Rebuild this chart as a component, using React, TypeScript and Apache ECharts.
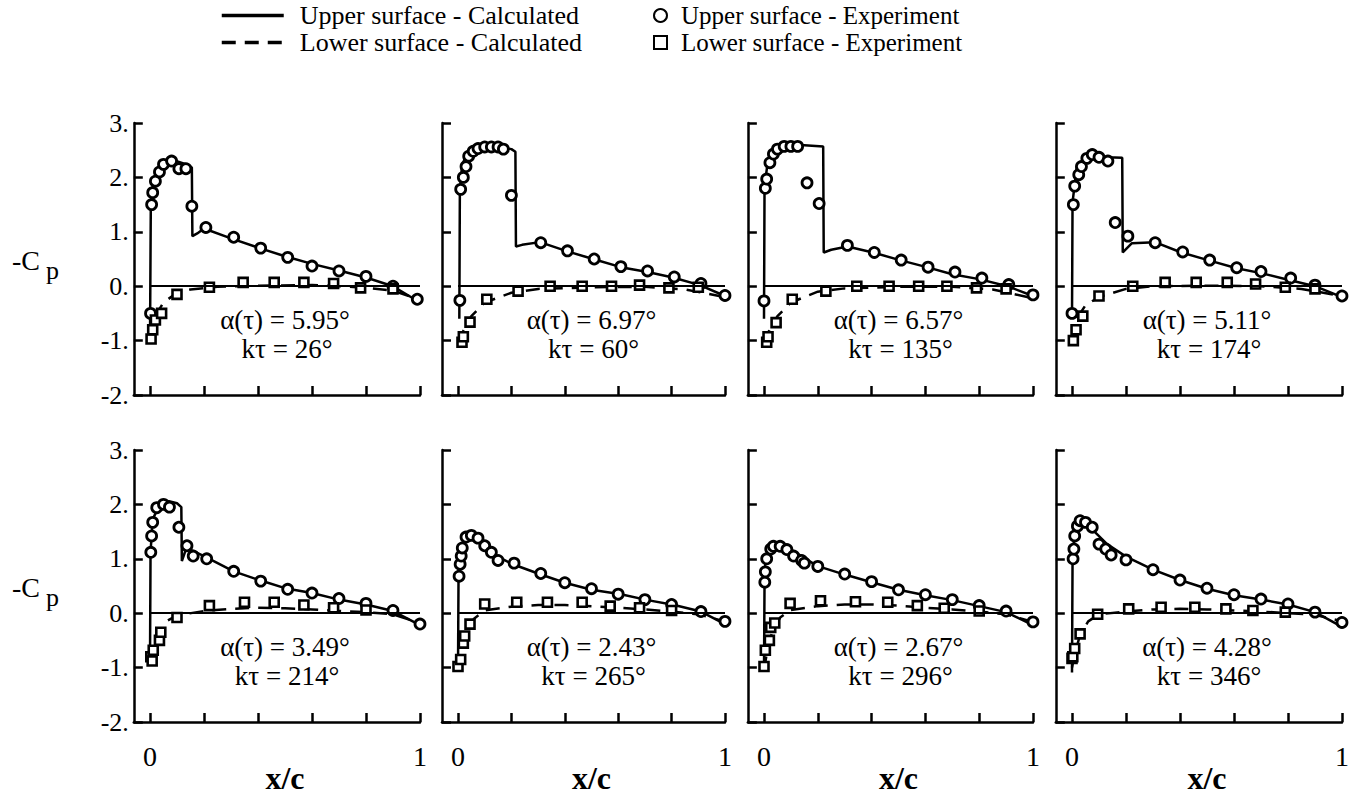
import React, { useEffect, useRef } from 'react';
import * as echarts from 'echarts';

type P = [number, number][];

// ---- Panel kτ = 26° ----
const upperCalc26: P = [[0, -0.98], [0.003, 1.5], [0.01, 1.85], [0.02, 2.05], [0.035, 2.2], [0.06, 2.3], [0.085, 2.32], [0.11, 2.28], [0.135, 2.24], [0.155, 2.18], [0.157, 0.92], [0.175, 0.97], [0.2, 1.06], [0.3, 0.88], [0.4, 0.71], [0.5, 0.55], [0.6, 0.41], [0.7, 0.29], [0.8, 0.16], [0.9, 0.0], [1.0, -0.3]];
const lowerCalc26: P = [[0, -0.98], [0.01, -0.75], [0.025, -0.5], [0.05, -0.3], [0.1, -0.12], [0.15, -0.06], [0.25, -0.01], [0.4, 0.01], [0.6, 0.02], [0.7, 0.0], [0.8, -0.03], [0.9, -0.08], [1.0, -0.25]];
const upperExp26: P = [[0.002, -0.5], [0.006, 1.5], [0.01, 1.72], [0.02, 1.93], [0.035, 2.1], [0.05, 2.24], [0.08, 2.3], [0.107, 2.16], [0.133, 2.16], [0.155, 1.47], [0.207, 1.08], [0.31, 0.9], [0.41, 0.7], [0.51, 0.53], [0.6, 0.37], [0.7, 0.28], [0.8, 0.18], [0.9, 0.0], [0.99, -0.24]];
const lowerExp26: P = [[0.004, -0.97], [0.01, -0.8], [0.02, -0.62], [0.043, -0.5], [0.1, -0.15], [0.22, -0.02], [0.345, 0.07], [0.46, 0.07], [0.57, 0.07], [0.68, 0.05], [0.78, -0.03], [0.9, -0.05]];

// ---- Panel kτ = 60° ----
const upperCalc60: P = [[0.005, -0.6], [0.007, 1.78], [0.015, 2.2], [0.03, 2.42], [0.05, 2.52], [0.08, 2.58], [0.12, 2.58], [0.16, 2.56], [0.2, 2.52], [0.215, 2.47], [0.217, 0.73], [0.24, 0.76], [0.307, 0.81], [0.41, 0.64], [0.506, 0.5], [0.61, 0.35], [0.71, 0.26], [0.805, 0.16], [0.906, 0.02], [1.0, -0.18]];
const lowerCalc60: P = [[0.005, -1.05], [0.02, -0.82], [0.05, -0.55], [0.1, -0.3], [0.2, -0.12], [0.3, -0.05], [0.5, -0.02], [0.7, -0.01], [0.85, -0.06], [1.0, -0.2]];
const upperExp60: P = [[0.007, -0.26], [0.01, 1.78], [0.02, 2.0], [0.03, 2.2], [0.04, 2.39], [0.057, 2.48], [0.075, 2.53], [0.1, 2.56], [0.125, 2.56], [0.15, 2.56], [0.17, 2.52], [0.2, 1.67], [0.31, 0.8], [0.41, 0.65], [0.51, 0.5], [0.61, 0.36], [0.71, 0.28], [0.81, 0.17], [0.91, 0.05], [1.0, -0.17]];
const lowerExp60: P = [[0.015, -1.03], [0.02, -0.93], [0.045, -0.66], [0.108, -0.24], [0.225, -0.09], [0.345, 0.0], [0.465, 0.0], [0.575, 0.0], [0.68, 0.02], [0.79, -0.03], [0.9, -0.02]];

// ---- Panel kτ = 135° ----
const upperCalc135: P = [[0, -0.6], [0.002, 1.83], [0.015, 2.33], [0.035, 2.51], [0.085, 2.6], [0.15, 2.59], [0.22, 2.57], [0.222, 0.62], [0.25, 0.67], [0.31, 0.73], [0.405, 0.62], [0.505, 0.48], [0.605, 0.35], [0.7, 0.22], [0.8, 0.13], [0.905, 0.0], [1.0, -0.18]];
const lowerCalc135: P = [[0.003, -1.05], [0.02, -0.8], [0.05, -0.55], [0.1, -0.3], [0.2, -0.1], [0.3, -0.04], [0.5, -0.01], [0.7, -0.01], [0.85, -0.06], [1.0, -0.22]];
const upperExp135: P = [[0.0, -0.27], [0.005, 1.8], [0.01, 1.97], [0.022, 2.27], [0.035, 2.43], [0.05, 2.52], [0.075, 2.57], [0.1, 2.57], [0.125, 2.57], [0.16, 1.9], [0.205, 1.52], [0.31, 0.75], [0.41, 0.62], [0.51, 0.48], [0.61, 0.35], [0.71, 0.26], [0.81, 0.15], [0.91, 0.03], [1.0, -0.16]];
const lowerExp135: P = [[0.01, -1.03], [0.015, -0.93], [0.045, -0.67], [0.105, -0.24], [0.23, -0.09], [0.345, 0.0], [0.465, 0.0], [0.575, 0.0], [0.68, 0.0], [0.79, -0.03], [0.9, -0.05]];

// ---- Panel kτ = 174° ----
const upperCalc174: P = [[0, -0.6], [0.002, 1.54], [0.018, 2.2], [0.055, 2.39], [0.085, 2.42], [0.13, 2.37], [0.186, 2.36], [0.188, 0.62], [0.222, 0.79], [0.307, 0.81], [0.405, 0.62], [0.51, 0.47], [0.61, 0.33], [0.7, 0.24], [0.8, 0.12], [0.9, 0.0], [1.0, -0.2]];
const lowerCalc174: P = [[0, -1.0], [0.02, -0.58], [0.05, -0.35], [0.1, -0.2], [0.2, -0.05], [0.3, 0.0], [0.5, 0.01], [0.7, 0.0], [0.85, -0.05], [1.0, -0.18]];
const upperExp174: P = [[0.0, -0.5], [0.005, 1.5], [0.01, 1.84], [0.025, 2.05], [0.035, 2.2], [0.055, 2.35], [0.075, 2.42], [0.1, 2.37], [0.133, 2.3], [0.16, 1.17], [0.207, 0.92], [0.308, 0.8], [0.41, 0.63], [0.51, 0.48], [0.61, 0.34], [0.7, 0.27], [0.81, 0.15], [0.9, 0.02], [1.0, -0.18]];
const lowerExp174: P = [[0.005, -1.0], [0.015, -0.8], [0.04, -0.55], [0.1, -0.18], [0.225, 0.0], [0.345, 0.07], [0.46, 0.07], [0.575, 0.07], [0.68, 0.04], [0.79, -0.02], [0.9, -0.05]];

// ---- Panel kτ = 214° ----
const upperCalc214: P = [[0, -0.9], [0.002, 1.12], [0.01, 1.73], [0.037, 2.0], [0.07, 2.06], [0.1, 2.02], [0.116, 1.95], [0.118, 0.96], [0.135, 1.2], [0.2, 1.05], [0.31, 0.77], [0.41, 0.6], [0.5, 0.46], [0.6, 0.37], [0.7, 0.25], [0.8, 0.16], [0.9, 0.04], [1.0, -0.22]];
const lowerCalc214: P = [[0, -0.9], [0.01, -0.75], [0.03, -0.45], [0.06, -0.15], [0.1, -0.04], [0.2, 0.04], [0.3, 0.08], [0.4, 0.1], [0.5, 0.09], [0.6, 0.07], [0.7, 0.04], [0.8, 0.02], [0.9, -0.02], [1.0, -0.18]];
const upperExp214: P = [[0.003, 1.12], [0.006, 1.42], [0.01, 1.67], [0.025, 1.94], [0.05, 2.0], [0.072, 1.95], [0.107, 1.58], [0.137, 1.24], [0.16, 1.05], [0.21, 1.0], [0.31, 0.77], [0.41, 0.59], [0.51, 0.44], [0.6, 0.37], [0.7, 0.27], [0.8, 0.18], [0.9, 0.05], [1.0, -0.2]];
const lowerExp214: P = [[0.003, -0.8], [0.008, -0.88], [0.012, -0.68], [0.035, -0.5], [0.04, -0.35], [0.1, -0.08], [0.22, 0.14], [0.35, 0.2], [0.46, 0.2], [0.57, 0.15], [0.68, 0.1], [0.8, 0.06]];

// ---- Panel kτ = 265° ----
const upperCalc265: P = [[0, -1.06], [0.002, 0.68], [0.01, 1.18], [0.025, 1.4], [0.045, 1.43], [0.085, 1.35], [0.145, 1.05], [0.205, 0.9], [0.305, 0.72], [0.4, 0.56], [0.5, 0.43], [0.61, 0.35], [0.71, 0.24], [0.81, 0.15], [0.91, 0.03], [1.0, -0.2]];
const lowerCalc265: P = [[0, -1.05], [0.01, -0.8], [0.03, -0.4], [0.06, -0.1], [0.1, 0.05], [0.2, 0.12], [0.3, 0.15], [0.4, 0.15], [0.5, 0.13], [0.6, 0.1], [0.7, 0.07], [0.8, 0.03], [0.9, -0.02], [1.0, -0.15]];
const upperExp265: P = [[0.004, 0.68], [0.008, 0.9], [0.012, 1.05], [0.016, 1.2], [0.03, 1.4], [0.05, 1.43], [0.075, 1.38], [0.1, 1.24], [0.125, 1.12], [0.15, 0.97], [0.21, 0.92], [0.31, 0.73], [0.4, 0.56], [0.5, 0.45], [0.6, 0.35], [0.7, 0.25], [0.8, 0.16], [0.91, 0.03], [1.0, -0.15]];
const lowerExp265: P = [[0.0, -0.98], [0.01, -0.85], [0.02, -0.55], [0.025, -0.42], [0.045, -0.2], [0.1, 0.17], [0.22, 0.2], [0.335, 0.2], [0.465, 0.2], [0.57, 0.13], [0.68, 0.1], [0.8, 0.05]];

// ---- Panel kτ = 296° ----
const upperCalc296: P = [[0, -1.07], [0.002, 0.57], [0.005, 1.0], [0.022, 1.23], [0.045, 1.25], [0.097, 1.18], [0.197, 0.87], [0.3, 0.71], [0.4, 0.57], [0.5, 0.43], [0.6, 0.33], [0.7, 0.24], [0.8, 0.13], [0.9, 0.02], [1.0, -0.22]];
const lowerCalc296: P = [[0, -1.05], [0.01, -0.75], [0.03, -0.35], [0.06, -0.08], [0.1, 0.06], [0.2, 0.13], [0.3, 0.16], [0.4, 0.16], [0.5, 0.14], [0.6, 0.1], [0.7, 0.07], [0.8, 0.03], [0.9, -0.02], [1.0, -0.16]];
const upperExp296: P = [[0.003, 0.57], [0.005, 0.76], [0.01, 1.0], [0.025, 1.18], [0.035, 1.23], [0.06, 1.23], [0.085, 1.17], [0.11, 1.05], [0.14, 0.97], [0.15, 0.92], [0.2, 0.86], [0.3, 0.72], [0.4, 0.58], [0.5, 0.43], [0.6, 0.34], [0.7, 0.25], [0.8, 0.14], [0.9, 0.04], [1.0, -0.16]];
const lowerExp296: P = [[0.0, -0.98], [0.005, -0.68], [0.02, -0.5], [0.025, -0.26], [0.04, -0.18], [0.097, 0.18], [0.21, 0.23], [0.34, 0.21], [0.46, 0.2], [0.57, 0.14], [0.67, 0.09], [0.8, 0.04]];

// ---- Panel kτ = 346° ----
const upperCalc346: P = [[0, -1.09], [0.002, 0.93], [0.007, 1.3], [0.02, 1.6], [0.037, 1.73], [0.055, 1.7], [0.085, 1.49], [0.13, 1.27], [0.2, 1.04], [0.3, 0.8], [0.4, 0.61], [0.5, 0.45], [0.6, 0.33], [0.7, 0.25], [0.8, 0.16], [0.9, 0.02], [1.0, -0.25]];
const lowerCalc346: P = [[0, -1.0], [0.01, -0.75], [0.03, -0.4], [0.06, -0.15], [0.1, -0.02], [0.2, 0.03], [0.3, 0.07], [0.4, 0.08], [0.5, 0.07], [0.6, 0.05], [0.7, 0.03], [0.8, 0.0], [0.9, -0.03], [1.0, -0.15]];
const upperExp346: P = [[0.004, 1.0], [0.007, 1.18], [0.01, 1.42], [0.02, 1.6], [0.03, 1.7], [0.05, 1.67], [0.075, 1.58], [0.1, 1.27], [0.125, 1.18], [0.145, 1.07], [0.2, 0.98], [0.3, 0.8], [0.4, 0.61], [0.5, 0.46], [0.6, 0.34], [0.7, 0.26], [0.8, 0.17], [0.9, 0.02], [1.0, -0.17]];
const lowerExp346: P = [[0.0, -0.83], [0.003, -0.8], [0.01, -0.65], [0.03, -0.38], [0.095, -0.02], [0.21, 0.08], [0.33, 0.11], [0.455, 0.11], [0.57, 0.08], [0.67, 0.05], [0.79, 0.02]];

const alphaValues = ['5.95', '6.97', '6.57', '5.11', '3.49', '2.43', '2.67', '4.28'];
const ktValues = ['26', '60', '135', '174', '214', '265', '296', '346'];

const xTickValues = [0, 0.2, 0.4, 0.6, 0.8, 1];
const xLabelValues = [0, 1];

const NAME_UC = 'Upper surface - Calculated';
const NAME_LC = 'Lower surface - Calculated';
const NAME_UE = 'Upper surface - Experiment';
const NAME_LE = 'Lower surface - Experiment';

const panels = [
  { uc: upperCalc26, lc: lowerCalc26, ue: upperExp26, le: lowerExp26 },
  { uc: upperCalc60, lc: lowerCalc60, ue: upperExp60, le: lowerExp60 },
  { uc: upperCalc135, lc: lowerCalc135, ue: upperExp135, le: lowerExp135 },
  { uc: upperCalc174, lc: lowerCalc174, ue: upperExp174, le: lowerExp174 },
  { uc: upperCalc214, lc: lowerCalc214, ue: upperExp214, le: lowerExp214 },
  { uc: upperCalc265, lc: lowerCalc265, ue: upperExp265, le: lowerExp265 },
  { uc: upperCalc296, lc: lowerCalc296, ue: upperExp296, le: lowerExp296 },
  { uc: upperCalc346, lc: lowerCalc346, ue: upperExp346, le: lowerExp346 },
];

// layout (pixels)
const COL_X0 = [150, 458, 764, 1072];
const COL_X1 = [420, 725, 1033, 1342];
const ROW_TOP = [123, 450];
const ROW_H = 272;
const X_MIN = -0.06;
const Y_MIN = -2;
const Y_MAX = 3;

const FONT = 'Liberation Serif';

function txt(text: string, x: number, y: number, size: number, align = 'center', weight = 'normal') {
  return {
    type: 'text',
    x,
    y,
    style: {
      text,
      fontSize: size,
      fontFamily: FONT,
      fontWeight: weight,
      fill: '#000',
      textAlign: align,
      textVerticalAlign: 'middle',
      align,
      verticalAlign: 'middle',
    },
  };
}

function buildOption() {
  const grid: any[] = [];
  const xAxis: any[] = [];
  const yAxis: any[] = [];
  const series: any[] = [];
  const graphic: any[] = [];

  panels.forEach((p, i) => {
    const c = i % 4;
    const r = Math.floor(i / 4);
    const x0 = COL_X0[c];
    const w = COL_X1[c] - x0;
    const top = ROW_TOP[r];
    grid.push({ left: x0 + X_MIN * w, width: (1 - X_MIN) * w, top, height: ROW_H });
    xAxis.push({
      type: 'value',
      gridIndex: i,
      min: X_MIN,
      max: 1,
      axisLine: { show: true, onZero: false, lineStyle: { color: '#000', width: 2.5 } },
      axisTick: { show: true, inside: true, length: 9, customValues: xTickValues, lineStyle: { color: '#000', width: 2.5 } },
      axisLabel: {
        show: r === 1,
        customValues: xLabelValues,
        fontSize: 28,
        fontFamily: FONT,
        color: '#000',
        margin: 20,
      },
      splitLine: { show: false },
    });
    yAxis.push({
      type: 'value',
      gridIndex: i,
      min: Y_MIN,
      max: Y_MAX,
      interval: 1,
      axisLine: { show: true, onZero: false, lineStyle: { color: '#000', width: 2.5 } },
      axisTick: { show: true, inside: true, length: 9, lineStyle: { color: '#000', width: 2.5 } },
      axisLabel: {
        show: c === 0,
        formatter: (v: number) => `${v}.`,
        fontSize: 26,
        fontFamily: FONT,
        color: '#000',
        margin: 5,
      },
      splitLine: { show: false },
    });

    series.push({
      name: NAME_UC,
      type: 'line',
      xAxisIndex: i,
      yAxisIndex: i,
      data: p.uc,
      symbol: 'none',
      z: 2,
      lineStyle: { color: '#000', width: 2.5 },
      itemStyle: { color: '#000' },
      markLine: {
        silent: true,
        symbol: 'none',
        label: { show: false },
        lineStyle: { color: '#000', width: 2.2, type: 'solid' },
        data: [[{ coord: [0, 0] }, { coord: [1, 0] }]],
      },
    });
    series.push({
      name: NAME_LC,
      type: 'line',
      xAxisIndex: i,
      yAxisIndex: i,
      data: p.lc,
      symbol: 'none',
      z: 2,
      lineStyle: { color: '#000', width: 2.5, type: [14, 9] },
      itemStyle: { color: '#000' },
    });
    series.push({
      name: NAME_UE,
      type: 'scatter',
      xAxisIndex: i,
      yAxisIndex: i,
      data: p.ue,
      symbol: 'circle',
      symbolSize: 10,
      z: 4,
      itemStyle: { color: '#fff', borderColor: '#000', borderWidth: 2.8, opacity: 1 },
    });
    series.push({
      name: NAME_LE,
      type: 'scatter',
      xAxisIndex: i,
      yAxisIndex: i,
      data: p.le,
      symbol: 'rect',
      symbolSize: 9,
      z: 4,
      itemStyle: { color: '#fff', borderColor: '#000', borderWidth: 2.6, opacity: 1 },
    });

    const toPx = (v: number) => top + ((Y_MAX - v) / (Y_MAX - Y_MIN)) * ROW_H;
    const cx = x0 + 0.5 * w;
    graphic.push(txt(`α(τ) = ${alphaValues[i]}°`, cx, toPx(-0.62), 27));
    graphic.push(txt(`kτ = ${ktValues[i]}°`, cx + 2, toPx(-1.16), 27));
    if (r === 1) {
      graphic.push(txt('x/c', cx, 778, 32, 'center', 'bold'));
    }
  });

  [0, 1].forEach((r) => {
    const cy = 260 + (ROW_TOP[r] - ROW_TOP[0]);
    graphic.push(txt('-C', 12, cy, 28, 'left'));
    graphic.push(txt('p', 46, cy + 10, 26, 'left'));
  });

  return {
    animation: false,
    backgroundColor: '#fff',
    legend: [
      {
        orient: 'vertical',
        left: 220,
        top: 2,
        padding: 0,
        itemWidth: 62,
        itemHeight: 14,
        itemGap: 0,
        data: [NAME_UC, NAME_LC],
        itemStyle: { opacity: 0, color: 'rgba(0,0,0,0)', borderWidth: 0 },
        lineStyle: { width: 3.5 },
        textStyle: { fontSize: 26, fontFamily: FONT, color: '#000', lineHeight: 27, padding: [0, 0, 0, 11] },
      },
      {
        orient: 'vertical',
        left: 653,
        top: 2,
        padding: 0,
        itemWidth: 13,
        itemHeight: 13,
        itemGap: 0,
        data: [NAME_UE, NAME_LE],
        textStyle: { fontSize: 25, fontFamily: FONT, color: '#000', lineHeight: 27, padding: [0, 0, 0, 9] },
      },
    ],
    grid,
    xAxis,
    yAxis,
    series,
    graphic,
  };
}

export default function App() {
  const ref = useRef<HTMLDivElement>(null);
  useEffect(() => {
    if (!ref.current) return;
    const chart = echarts.init(ref.current, undefined, { renderer: 'svg' });
    chart.setOption(buildOption() as any);
    return () => {
      chart.dispose();
    };
  }, []);
  return (
    <div
      ref={ref}
      style={{ position: 'absolute', left: 0, top: 0, width: 1357, height: 800, background: '#fff' }}
    />
  );
}
